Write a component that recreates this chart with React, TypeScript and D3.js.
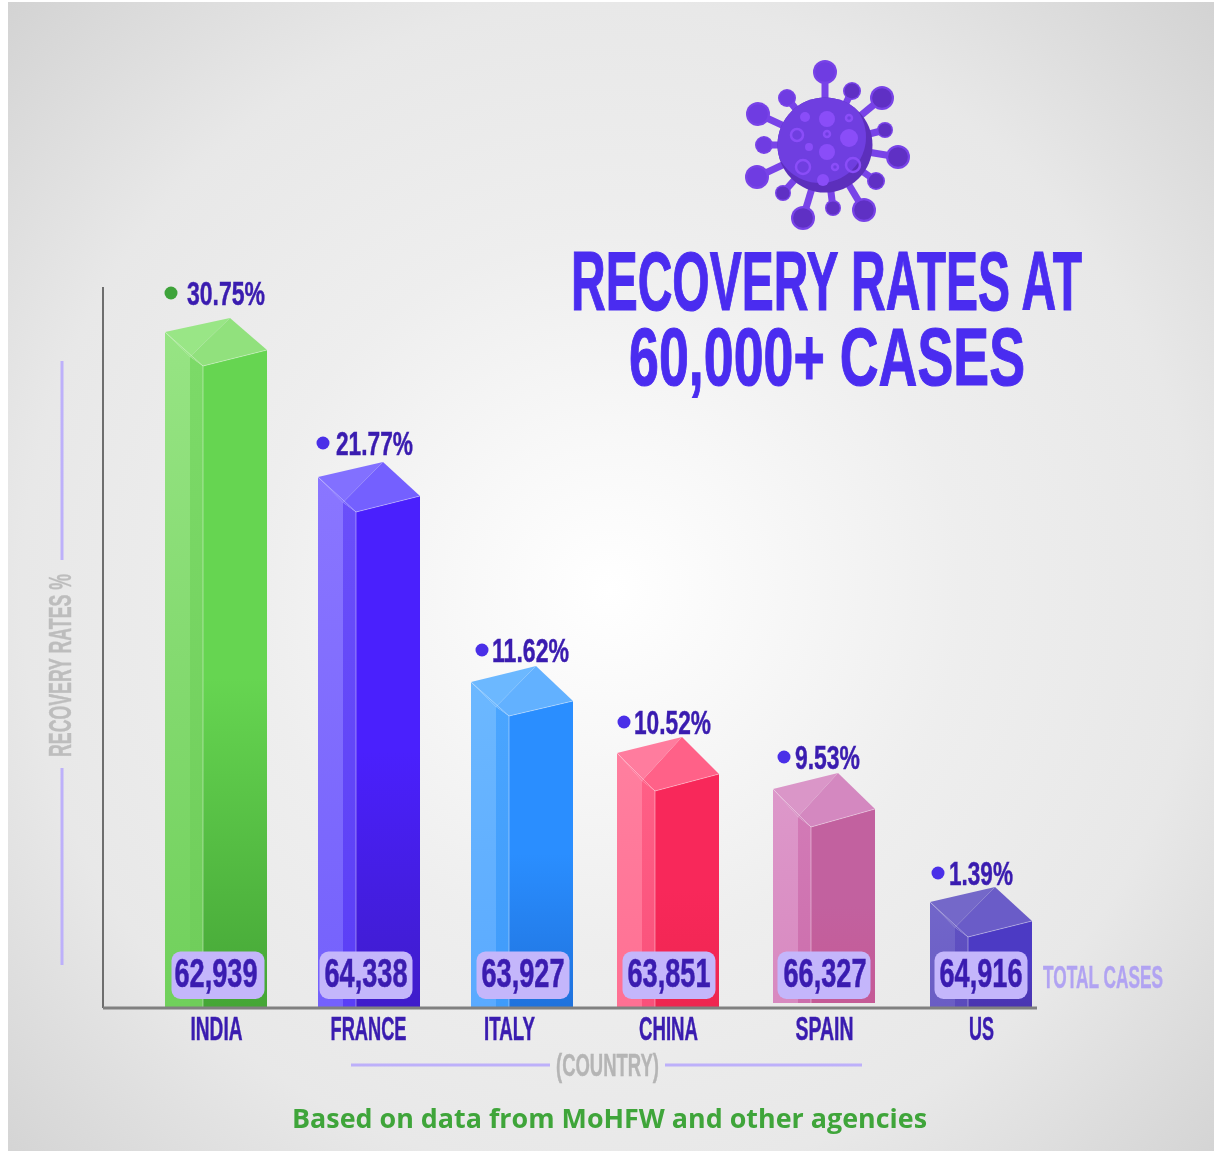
import React, { useEffect, useRef } from 'react';
import * as d3 from 'd3';

// values
const countries = ['INDIA', 'FRANCE', 'ITALY', 'CHINA', 'SPAIN', 'US'];
const rates = [30.75, 21.77, 11.62, 10.52, 9.53, 1.39];
const totalCases = ['62,939', '64,338', '63,927', '63,851', '66,327', '64,916'];

// face colours per bar
const sideLight = ['#97e484', '#8a76ff', '#6cb8ff', '#ff7f9f', '#dd98ca', '#7266ca'];
const sideLightEnd = ['#70d05b', '#7461fc', '#5aaaff', '#ff7093', '#d889c0', '#6a5dc4'];
const sideMid = ['#7cda68', '#6a4ffa', '#4aa5ff', '#ff5f86', '#d27ab6', '#5f50c2'];
const sideMidEnd = ['#6fcd5a', '#5a3ef6', '#3f9bfa', '#f9507a', '#cc6eac', '#5a4abc'];
const frontTop = ['#66d551', '#4a20fd', '#2a8eff', '#f8285a', '#c2619f', '#4c3ac4'];
const frontBottom = ['#45a636', '#3f1cca', '#1f72dd', '#ee2650', '#c55a96', '#4a35b0'];
const roofLeft = ['#99e686', '#8270ff', '#6cb8ff', '#ff7c9e', '#da96c8', '#7468c9'];
const roofRight = ['#91e17d', '#7460ff', '#62b1ff', '#ff6188', '#d488c0', '#6a5cc8'];
const dotColors = ['#3ea33a', '#4a2fe8', '#4a2fe8', '#4a2fe8', '#4a2fe8', '#4a2fe8'];

// virus icon: spike ball offsets from the body centre and radius
const spikes = [
    [0, -73, 12], [27, -54, 9], [57, -47, 12], [60, -15, 8], [73, 12, 12], [51, 36, 9],
    [39, 65, 12], [8, 63, 8], [-22, 73, 12], [-42, 48, 8], [-68, 32, 12], [-61, 0, 9],
    [-67, -31, 12], [-38, -47, 9],
];
const spots = [
    [2, -26, 8, 1], [-20, -28, 5, 1], [24, -27, 3, 0], [-28, -10, 6, 0], [2, -11, 3, 0], [24, -7, 9, 1],
    [-16, 2, 4, 1], [2, 7, 8, 1], [-22, 22, 7, 0], [10, 22, 3, 0], [28, 20, 7, 0], [-2, 35, 6, 1],
];

const FONT = '"Liberation Sans Narrow", "Liberation Sans", sans-serif';
const INK = '#3a1cb0';
const TITLE = '#4a2cf0';

function App() {
    const svgRef = useRef<SVGSVGElement>(null);

    useEffect(() => {
        const svg = d3.select(svgRef.current);
        svg.selectAll('*').remove();

        const baseY = 1007;

        // bars are not drawn to a linear axis in the original, so the scale is piecewise
        const rateScale = d3.scaleLinear()
            .domain([1.39, 9.53, 10.52, 11.62, 21.77, 30.75])
            .range([902, 789, 753, 682, 477, 332]);

        const barLeft = d3.scaleOrdinal<string, number>()
            .domain(countries)
            .range([165, 318, 471, 617, 773, 930]);
        const labelCenter = d3.scaleOrdinal<string, number>()
            .domain(countries)
            .range([216, 368, 509, 668, 824, 981]);
        const badgeCenter = d3.scaleOrdinal<string, number>()
            .domain(countries)
            .range([218, 366, 523, 669, 824, 981]);
        const caseCenter = d3.scaleOrdinal<string, number>()
            .domain(countries)
            .range([216, 366, 523, 669, 825, 981]);

        const defs = svg.append('defs');

        const bg = defs.append('radialGradient')
            .attr('id', 'bg')
            .attr('gradientUnits', 'userSpaceOnUse')
            .attr('cx', 610).attr('cy', 590).attr('r', 840);
        [['0%', '#ffffff'], ['18%', '#f8f8f8'], ['42%', '#eeeeee'], ['70%', '#e8e8e8'], ['100%', '#d3d3d3']]
            .forEach(([o, c]) => bg.append('stop').attr('offset', o).attr('stop-color', c));

        svg.append('rect').attr('width', 1214).attr('height', 1151).attr('fill', '#ffffff');
        svg.append('rect')
            .attr('x', 8).attr('y', 2).attr('width', 1206).attr('height', 1149)
            .attr('fill', 'url(#bg)');

        const label = (g: any, text: string, x: number, y: number, size: number, width: number, color: string, anchor = 'start') =>
            g.append('text')
                .attr('x', x).attr('y', y)
                .attr('font-family', FONT)
                .attr('font-weight', 700)
                .attr('font-size', size)
                .attr('fill', color)
                .attr('stroke', color)
                .attr('stroke-width', size * 0.014)
                .attr('text-anchor', anchor)
                .attr('textLength', width)
                .attr('lengthAdjust', 'spacingAndGlyphs')
                .text(text);

        // Axes
        svg.append('line')
            .attr('x1', 103).attr('x2', 103).attr('y1', 287).attr('y2', 1008)
            .attr('stroke', '#6e6e6e').attr('stroke-width', 2);

        // Bars
        const face = (g: any, pts: number[][], fill: string) =>
            g.append('path')
                .attr('d', d3.line()(pts as [number, number][]) + 'Z')
                .attr('fill', fill);

        const vertical = (id: string, stops: [string, string][]) => {
            const grad = defs.append('linearGradient')
                .attr('id', id)
                .attr('x1', '0%').attr('x2', '0%').attr('y1', '0%').attr('y2', '100%');
            stops.forEach(([o, c]) => grad.append('stop').attr('offset', o).attr('stop-color', c));
            return `url(#${id})`;
        };

        const backRise = [14, 15, 16, 16, 16, 15];
        const rightDrop = [18, 19, 19, 21, 20, 19];
        const frontDrop = [34, 35, 34, 38, 38, 35];

        countries.forEach((c, i) => {
            const L = barLeft(c);
            const y0 = rateScale(rates[i]);
            const bottom = c === 'SPAIN' ? baseY - 4 : baseY;
            const g = svg.append('g');

            const left = [L, y0];
            const back = [L + 65, y0 - backRise[i]];
            const right = [L + 102, y0 + rightDrop[i]];
            const front = [L + 38, y0 + frontDrop[i]];
            const fold = [L + 25, y0 + frontDrop[i] * 0.73];

            face(g, [left, fold, [L + 25, bottom], [L, bottom]],
                vertical(`sideA${i}`, [['0%', sideLight[i]], ['100%', sideLightEnd[i]]]));
            face(g, [fold, front, [L + 38, bottom], [L + 25, bottom]],
                vertical(`sideB${i}`, [['0%', sideMid[i]], ['100%', sideMidEnd[i]]]));
            face(g, [front, right, [L + 102, bottom], [L + 38, bottom]],
                vertical(`front${i}`, [['0%', frontTop[i]], ['50%', frontTop[i]], ['100%', frontBottom[i]]]));
            face(g, [back, right, front, fold], roofRight[i]);
            face(g, [left, back, fold], roofLeft[i]);

            // thin highlight along the near edges
            g.append('path')
                .attr('d', d3.line()([left, front, right] as [number, number][]))
                .attr('fill', 'none')
                .attr('stroke', '#ffffff').attr('stroke-opacity', 0.35).attr('stroke-width', 1);
            g.append('line')
                .attr('x1', L + 38).attr('x2', L + 38).attr('y1', front[1]).attr('y2', bottom)
                .attr('stroke', '#ffffff').attr('stroke-opacity', 0.4).attr('stroke-width', 1);
        });

        svg.append('line')
            .attr('x1', 103).attr('x2', 1037).attr('y1', 1008).attr('y2', 1008)
            .attr('stroke', '#808080').attr('stroke-width', 3);

        // Country ticks on the x axis
        const tickWidths = [52, 76, 51, 59, 58, 25];
        const xAxis = svg.append('g')
            .attr('transform', 'translate(0,1008)')
            .call(d3.axisBottom(labelCenter as any).tickSize(0));
        xAxis.select('.domain').remove();
        xAxis.selectAll('text')
            .attr('y', 32)
            .attr('dy', 0)
            .attr('font-family', FONT)
            .attr('font-weight', 700)
            .attr('font-size', 33)
            .attr('fill', INK)
            .attr('stroke', INK)
            .attr('stroke-width', 0.5)
            .attr('textLength', (_: any, i: number) => tickWidths[i])
            .attr('lengthAdjust', 'spacingAndGlyphs');

        // Total case badges
        countries.forEach((c, i) => {
            const cx = badgeCenter(c);
            svg.append('rect')
                .attr('x', cx - 46.5).attr('y', 951.5)
                .attr('width', 93).attr('height', 47.5)
                .attr('rx', 9)
                .attr('fill', '#c4b6fb');
            label(svg, totalCases[i], caseCenter(c), 987, 41, 83, INK, 'middle');
        });
        label(svg, 'TOTAL CASES', 1043, 988, 31, 120, '#b1a3f2');

        // Rate labels above the bars
        const dotX = d3.scaleOrdinal<string, number>().domain(countries).range([171, 323, 482, 624, 784, 938]);
        const textX = d3.scaleOrdinal<string, number>().domain(countries).range([187, 336, 492, 634, 795, 949]);
        const textW = [78, 77, 77, 77, 65, 64];
        const dotLift = [39, 34, 32, 31, 32, 29];
        countries.forEach((c, i) => {
            const cy = rateScale(rates[i]) - dotLift[i];
            svg.append('circle')
                .attr('cx', dotX(c)).attr('cy', cy).attr('r', 6.5)
                .attr('fill', dotColors[i]);
            label(svg, `${rates[i]}%`, textX(c), cy + 12, 33, textW[i], INK);
        });

        // Title
        label(svg, 'RECOVERY RATES AT', 571, 310, 84, 511, TITLE);
        label(svg, '60,000+ CASES', 629, 385, 82, 396, TITLE);

        // Axis captions
        const accent = '#bdb0fa';
        [[361, 560], [768, 965]].forEach(([a, b]) => {
            svg.append('line')
                .attr('x1', 62).attr('x2', 62).attr('y1', a).attr('y2', b)
                .attr('stroke', accent).attr('stroke-width', 3);
        });
        [[351, 550], [665, 862]].forEach(([a, b]) => {
            svg.append('line')
                .attr('x1', a).attr('x2', b).attr('y1', 1065).attr('y2', 1065)
                .attr('stroke', accent).attr('stroke-width', 3);
        });
        const yTitle = svg.append('g').attr('transform', 'translate(71,757) rotate(-90)');
        label(yTitle, 'RECOVERY RATES %', 0, 0, 31, 183, '#bdbdbd');
        label(svg, '(COUNTRY)', 556, 1076, 31, 103, '#b5b5b5');

        // Source line
        svg.append('text')
            .attr('x', 292).attr('y', 1128)
            .attr('font-family', '"Open Sans", sans-serif')
            .attr('font-weight', 700)
            .attr('font-size', 27)
            .attr('fill', '#3fa53a')
            .attr('textLength', 635)
            .attr('lengthAdjust', 'spacingAndGlyphs')
            .text('Based on data from MoHFW and other agencies');

        // Virus icon
        const virus = svg.append('g').attr('transform', 'translate(825,145)');
        const bodyClip = defs.append('clipPath').attr('id', 'body');
        bodyClip.append('circle').attr('r', 47.5);
        spikes.forEach(([dx, dy, r]) => {
            virus.append('line')
                .attr('x1', 0).attr('y1', 0).attr('x2', dx).attr('y2', dy)
                .attr('stroke', '#7843e8').attr('stroke-width', 7);
            virus.append('circle')
                .attr('cx', dx).attr('cy', dy).attr('r', r)
                .attr('fill', '#7843e8');
            virus.append('circle')
                .attr('cx', dx).attr('cy', dy).attr('r', r * 0.82)
                .attr('fill', dx > 20 || dy > 40 ? '#5f30c4' : '#6f3ce2');
        });
        virus.append('circle').attr('r', 47.5).attr('fill', '#5c2fbc');
        virus.append('circle')
            .attr('cx', -5).attr('cy', -8).attr('r', 46)
            .attr('fill', '#6f3ee0')
            .attr('clip-path', 'url(#body)');
        spots.forEach(([dx, dy, r, filled]) => {
            virus.append('circle')
                .attr('cx', dx).attr('cy', dy).attr('r', r)
                .attr('fill', filled ? '#8a4df8' : 'none')
                .attr('stroke', filled ? 'none' : '#8a4df8')
                .attr('stroke-width', 2.5);
        });
    }, []);

    return (
        <svg
            ref={svgRef}
            width={1214}
            height={1151}
            style={{ position: 'absolute', left: 0, top: 0, display: 'block', filter: 'blur(0.5px)' }}
        />
    );
}

export default App;
